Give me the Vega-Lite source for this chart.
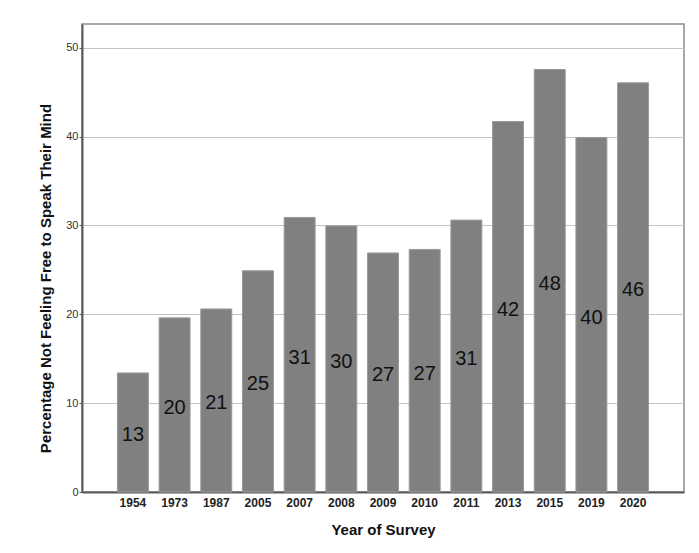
{
  "$schema": "https://vega.github.io/schema/vega-lite/v6.json",
  "width": 602,
  "height": 468,
  "autosize": "none",
  "padding": {"left": 82, "top": 24, "right": 15, "bottom": 61},
  "background": "white",
  "config": {
    "font": "Liberation Sans",
    "view": {"stroke": "#8c8c8c", "strokeWidth": 1.5}
  },
  "data": {
    "values": [
      {"year": "1954", "pct": 13.4},
      {"year": "1973", "pct": 19.6},
      {"year": "1987", "pct": 20.6},
      {"year": "2005", "pct": 24.9},
      {"year": "2007", "pct": 30.9},
      {"year": "2008", "pct": 29.95},
      {"year": "2009", "pct": 26.9},
      {"year": "2010", "pct": 27.3},
      {"year": "2011", "pct": 30.6},
      {"year": "2013", "pct": 41.7},
      {"year": "2015", "pct": 47.55},
      {"year": "2019", "pct": 39.9},
      {"year": "2020", "pct": 46.05}
    ]
  },
  "encoding": {
    "x": {
      "field": "year",
      "type": "nominal",
      "sort": null,
      "scale": {"paddingInner": 0.257, "paddingOuter": 0.85},
      "axis": {
        "title": "Year of Survey",
        "labelAngle": 0,
        "labelFontSize": 12,
        "labelFontWeight": "bold",
        "labelColor": "#222222",
        "labelPadding": 5,
        "ticks": false,
        "domainColor": "#5a5a5a",
        "domainWidth": 2,
        "titleFontSize": 15,
        "titleFontWeight": "bold",
        "titleColor": "#111111",
        "titlePadding": 14
      }
    }
  },
  "layer": [
    {
      "mark": {"type": "bar", "color": "#808080", "stroke": "#9a9a9a", "strokeWidth": 1},
      "encoding": {
        "y": {
          "field": "pct",
          "type": "quantitative",
          "scale": {"domain": [0, 52.67], "nice": false, "zero": true},
          "axis": {
            "title": "Percentage Not Feeling Free to Speak Their Mind",
            "values": [0, 10, 20, 30, 40, 50],
            "grid": true,
            "gridColor": "#c4c4c4",
            "gridWidth": 1.2,
            "tickSize": 3,
            "tickColor": "#5a5a5a",
            "labelPadding": 1,
            "labelFontSize": 11,
            "labelColor": "#333333",
            "domainColor": "#5a5a5a",
            "domainWidth": 2,
            "titleFontSize": 15,
            "titleFontWeight": "bold",
            "titleColor": "#111111",
            "titlePadding": 12,
            "titleY": 254
          }
        }
      }
    },
    {
      "mark": {"type": "text", "fontSize": 20, "color": "#111111", "baseline": "middle", "dy": 3},
      "encoding": {
        "y": {
          "field": "pct",
          "type": "quantitative",
          "scale": {"domain": [0, 105.34], "nice": false, "zero": true},
          "axis": null
        },
        "text": {"field": "pct", "type": "quantitative", "format": ".0f"}
      }
    }
  ],
  "resolve": {"scale": {"y": "independent"}}
}
